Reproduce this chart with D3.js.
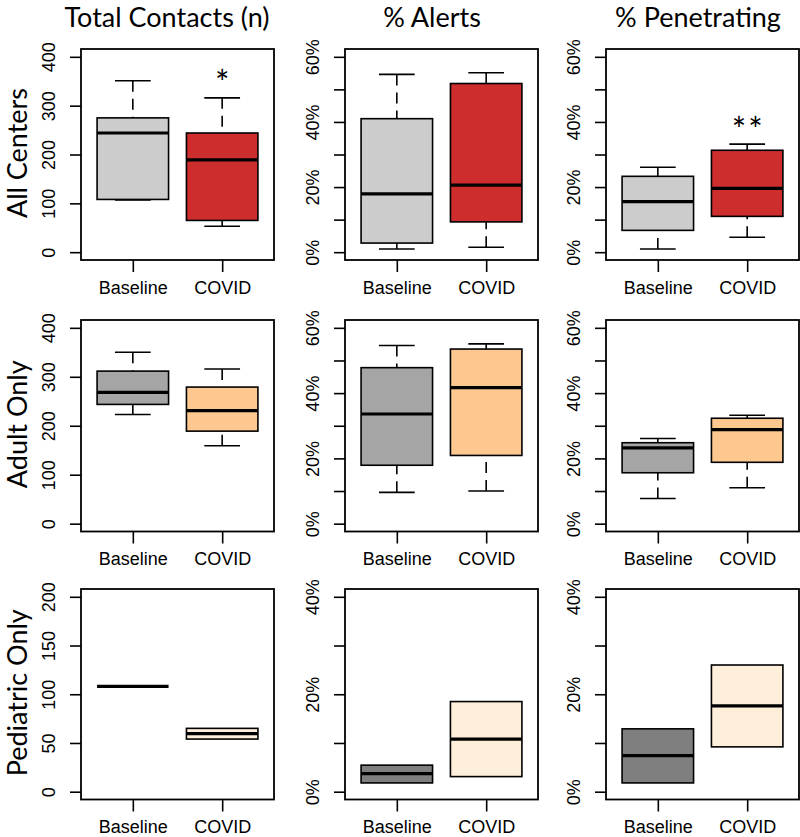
<!DOCTYPE html>
<html>
<head>
<meta charset="utf-8">
<script src="https://cdn.jsdelivr.net/npm/d3@7"></script>
<style>
  html, body { margin: 0; padding: 0; background: #fff; }
  svg { display: block; }
</style>
</head>
<body>
<svg id="chart" width="800" height="837"></svg>
<script>
// ---------------- DATA ----------------
const categories = ["Baseline", "COVID"];
const rowLabels = ["All Centers", "Adult Only", "Pediatric Only"];
const colTitles = ["Total Contacts (n)", "% Alerts", "% Penetrating"];

// box stats: [lower whisker, Q1, median, Q3, upper whisker]
const allTotalBaseline = [107, 108, 244, 275, 351];
const allTotalCovid    = [53, 65, 189, 244, 316];
const allAlertsBaseline = [1.0, 2.8, 17.9, 41.0, 54.6];
const allAlertsCovid    = [1.5, 9.3, 20.6, 51.8, 55.1];
const allPenBaseline = [1.0, 6.7, 15.5, 23.3, 26.1];
const allPenCovid    = [4.6, 11.0, 19.6, 31.3, 33.2];

const adultTotalBaseline = [223, 243.6, 268, 311.6, 350];
const adultTotalCovid    = [159, 189, 231, 279, 316];
const adultAlertsBaseline = [9.6, 17.9, 33.6, 47.8, 54.6];
const adultAlertsCovid    = [10.0, 20.9, 41.7, 53.5, 55.1];
const adultPenBaseline = [7.7, 15.6, 23.2, 24.8, 26.1];
const adultPenCovid    = [11.0, 18.8, 28.8, 32.3, 33.2];

const pedTotalBaseline = [108, 108, 108, 108, 108];
const pedTotalCovid    = [54, 54, 59.6, 65, 65];
const pedAlertsBaseline = [1.8, 1.8, 3.7, 5.45, 5.45];
const pedAlertsCovid    = [3.1, 3.1, 10.8, 18.5, 18.5];
const pedPenBaseline = [1.8, 1.8, 7.4, 12.9, 12.9];
const pedPenCovid    = [9.2, 9.2, 17.6, 26.0, 26.0];

// significance marks per panel (row-major), placed over COVID box
const significance = ["*", "", "**", "", "", "", "", "", ""];

// axis ticks
const totalTicks = [0, 100, 200, 300, 400];
const totalLabels = [0, 100, 200, 300, 400];
const pctTicks = [0, 10, 20, 30, 40, 50, 60];
const pctLabels = [0, 20, 40, 60];
const pedTotalTicks = [0, 50, 100, 150, 200];
const pedTotalLabels = [0, 50, 100, 150, 200];
const pedPctTicks = [0, 10, 20, 30, 40];
const pedPctLabels = [0, 20, 40];

// fills per row: [baseline, covid]
const rowFills = [["#cccccc", "#cd2d2d"], ["#a5a5a5", "#fdc88f"], ["#7f7f7f", "#feefdb"]];

// ---------------- PANEL SETUP ----------------
const panelData = [
  [[allTotalBaseline, allTotalCovid], [allAlertsBaseline, allAlertsCovid], [allPenBaseline, allPenCovid]],
  [[adultTotalBaseline, adultTotalCovid], [adultAlertsBaseline, adultAlertsCovid], [adultPenBaseline, adultPenCovid]],
  [[pedTotalBaseline, pedTotalCovid], [pedAlertsBaseline, pedAlertsCovid], [pedPenBaseline, pedPenCovid]]
];
const panelAxes = [
  [{t: totalTicks, l: totalLabels, pct: false}, {t: pctTicks, l: pctLabels, pct: true}, {t: pctTicks, l: pctLabels, pct: true}],
  [{t: totalTicks, l: totalLabels, pct: false}, {t: pctTicks, l: pctLabels, pct: true}, {t: pctTicks, l: pctLabels, pct: true}],
  [{t: pedTotalTicks, l: pedTotalLabels, pct: false}, {t: pedPctTicks, l: pedPctLabels, pct: true}, {t: pedPctTicks, l: pedPctLabels, pct: true}]
];

const colLeft = [81, 345, 606];
const colRight = [274, 538, 799];
const rowTop = [49, 320, 589];
const rowBottom = [260, 531.5, 799.5];
const titleX = [167, 432, 698];

const svg = d3.select("#chart");
const titleFont = "Lato, 'Open Sans', sans-serif";
const tickFont = "'Liberation Sans', Arial, sans-serif";

// column titles
colTitles.forEach((t, c) => {
  svg.append("text")
    .attr("x", titleX[c]).attr("y", 27)
    .attr("text-anchor", "middle")
    .style("font-family", titleFont).style("font-size", "27px")
    .attr("fill", "#000")
    .text(t);
});

// row labels
rowLabels.forEach((t, r) => {
  const cy = (rowTop[r] + rowBottom[r]) / 2 - 1.5;
  svg.append("text")
    .attr("transform", `translate(27,${cy}) rotate(-90)`)
    .attr("text-anchor", "middle")
    .style("font-family", titleFont).style("font-size", "27px")
    .attr("fill", "#000")
    .text(t);
});

for (let r = 0; r < 3; r++) {
  for (let c = 0; c < 3; c++) {
    const ax = panelAxes[r][c];
    const lo = ax.t[0], hi = ax.t[ax.t.length - 1];
    const pad = 0.04 * (hi - lo);
    const y = d3.scaleLinear().domain([lo - pad, hi + pad]).range([rowBottom[r], rowTop[r]]);
    const x = d3.scaleLinear().domain([0.5 - 0.08, 2.5 + 0.08]).range([colLeft[c], colRight[c]]);
    const g = svg.append("g");

    // boxes
    const stats = panelData[r][c];
    stats.forEach((s, i) => {
      const cx = x(i + 1);
      const bw = x(i + 1 + 0.4) - cx;
      const sw = x(i + 1 + 0.2) - cx;
      const lineStyle = sel => sel.attr("stroke", "#000").attr("stroke-width", 1.6).attr("fill", "none");
      // whiskers (dashed), drawn from whisker end to box
      if (s[4] > s[3]) {
        g.append("line").attr("x1", cx).attr("x2", cx).attr("y1", y(s[4])).attr("y2", y(s[3]))
          .call(lineStyle).attr("stroke-dasharray", "11,7");
        g.append("line").attr("x1", cx - sw).attr("x2", cx + sw).attr("y1", y(s[4])).attr("y2", y(s[4])).call(lineStyle);
      }
      if (s[0] < s[1]) {
        g.append("line").attr("x1", cx).attr("x2", cx).attr("y1", y(s[0])).attr("y2", y(s[1]))
          .call(lineStyle).attr("stroke-dasharray", "11,7");
        g.append("line").attr("x1", cx - sw).attr("x2", cx + sw).attr("y1", y(s[0])).attr("y2", y(s[0])).call(lineStyle);
      }
      // box
      g.append("rect")
        .attr("x", cx - bw).attr("width", 2 * bw)
        .attr("y", y(s[3])).attr("height", Math.max(0, y(s[1]) - y(s[3])))
        .attr("fill", rowFills[r][i]).attr("stroke", "#000").attr("stroke-width", 1.6);
      // median
      g.append("line").attr("x1", cx - bw).attr("x2", cx + bw).attr("y1", y(s[2])).attr("y2", y(s[2]))
        .attr("stroke", "#000").attr("stroke-width", 3.2);
    });

    // significance
    const sig = significance[r * 3 + c];
    if (sig) {
      const s = stats[1];
      g.append("text")
        .attr("x", x(2) + (sig.length > 1 ? 1 : 0)).attr("y", y(s[4]) - 22 + 19.5)
        .attr("text-anchor", "middle")
        .style("font-family", titleFont).style("font-size", "34px")
        .style("letter-spacing", sig.length > 1 ? "2px" : "0px")
        .text(sig);
    }

    // frame
    g.append("rect")
      .attr("x", colLeft[c]).attr("y", rowTop[r])
      .attr("width", colRight[c] - colLeft[c]).attr("height", rowBottom[r] - rowTop[r])
      .attr("fill", "none").attr("stroke", "#000").attr("stroke-width", 1.8);

    // y axis
    const yAxis = d3.axisLeft(y).tickValues(ax.t).tickSize(11)
      .tickFormat(v => ax.l.includes(v) ? (ax.pct ? v + "%" : String(v)) : "");
    const ya = svg.append("g").attr("transform", `translate(${colLeft[c]},0)`).call(yAxis);
    ya.select(".domain").remove();
    ya.selectAll(".tick line").attr("stroke", "#000").attr("stroke-width", 1.6);
    ya.selectAll(".tick text")
      .attr("x", null).attr("dy", null).attr("y", null)
      .attr("transform", "translate(-26,0) rotate(-90)")
      .attr("text-anchor", "middle")
      .style("font-family", tickFont).style("font-size", "18px").attr("fill", "#000");

    // x axis
    const xAxis = d3.axisBottom(x).tickValues([1, 2]).tickSize(12).tickFormat(v => categories[v - 1]);
    const xa = svg.append("g").attr("transform", `translate(0,${rowBottom[r]})`).call(xAxis);
    xa.select(".domain").remove();
    xa.selectAll(".tick line").attr("stroke", "#000").attr("stroke-width", 1.6);
    xa.selectAll(".tick text")
      .attr("y", 33.5).attr("dy", null)
      .style("font-family", tickFont).style("font-size", "18px").attr("fill", "#000");
  }
}
</script>
</body>
</html>
